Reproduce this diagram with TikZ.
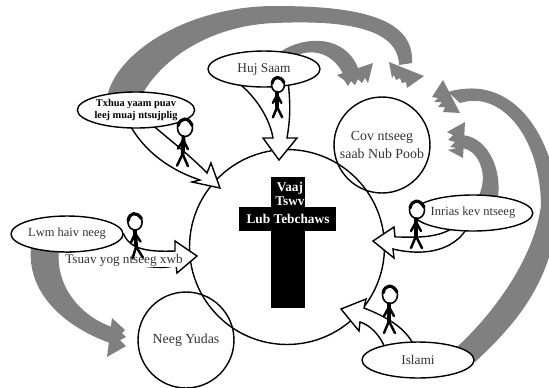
\documentclass[tikz,border=0pt]{standalone}
\usepackage{fontspec}
\setmainfont{Liberation Serif}
\usetikzlibrary{shapes.geometric}
\definecolor{bandgrey}{HTML}{808080}
\definecolor{textgrey}{HTML}{333333}
\pgfdeclarelayer{background}
\pgfdeclarelayer{arrowlayer}
\pgfsetlayers{background,arrowlayer,main}
\tikzset{
    religion/.style={ellipse, draw=black, fill=white, line width=0.8pt, minimum width=2.24cm, minimum height=0.72cm, inner sep=0pt, align=center, text=textgrey, font=\fontsize{7.6}{9}\selectfont},
    church/.style={circle, draw=black, line width=0.8pt, minimum size=1.92cm, inner sep=0pt, align=center, text=textgrey, font=\fontsize{7.9}{10}\selectfont},
    crosstext/.style={text=white, inner sep=0pt, font=\bfseries\fontsize{7.6}{9}\selectfont},
    bandfill/.style={fill=bandgrey},
    hollow/.style={draw=black, fill=white, line width=0.8pt, line join=miter},
    manline/.style={draw=black, line width=1.4pt, line cap=round},
    stickman/.pic={
        \draw[manline, line width=0.9pt, fill=white] (0,0) ellipse (7.5 and 8.5);
        \draw[manline, line width=1.8pt] (-7,-2) .. controls (-5,-11) and (3,-11) .. (7,-3);
        \draw[manline, line width=2.2pt] (-1,9) -- (-1,26);
        \draw[manline] (-1,12) -- (-6,21);
        \draw[manline] (-1,12) -- (4,21);
        \draw[manline] (-1,26) -- (-6,38);
        \draw[manline] (-1,26) -- (5,38);
    }
}
\begin{document}
\begin{tikzpicture}[x=0.02cm,y=-0.02cm]
    \useasboundingbox (0,0) rectangle (549,387);

    % draws religions
    \node[religion] (huj) at (264,69) {Huj Saam};
    \node[religion, text=black, font=\bfseries\fontsize{5.9}{7.2}\selectfont] (txhua) at (136,110) {Txhua yaam puav\\leej muaj ntsujplig};
    \node[religion, font=\fontsize{7.1}{9}\selectfont] (lwm) at (67,234) {Lwm haiv neeg};
    \node[religion, font=\fontsize{7.1}{9}\selectfont] (inrias) at (473,213) {Inrias kev ntseeg};
    \node[religion] (islami) at (418,360) {Islami};

    % draws men
    \pic (hujman) at (278,85) [scale=0.85] {stickman};
    \pic (txhuaman) at (185,128) [rotate=-3] {stickman};
    \pic (lwmman) at (135,222) [rotate=5, scale=0.95] {stickman};
    \pic (inriasman) at (417,210) {stickman};
    \pic (islamiman) at (390,295) {stickman};

    \begin{pgfonlayer}{background}
        % draws circles and cross
        \node[circle, draw=black, line width=0.8pt, minimum size=3.9cm, inner sep=0pt] (lub) at (287,247) {};
        \node[church] (cov) at (382,145) {Cov ntseeg\\saab Nub Poob};
        \node[church] (yudas) at (186,340) {Neeg Yudas};
        \fill[black] (271,177) rectangle (305,308);
        \fill[black] (239,207) rectangle (336,231);
        \node[crosstext] (vaaj) at (290,188) {Vaaj};
        \node[crosstext] (tswv) at (290,201) {Tswv};
        \node[crosstext] (tebchaws) at (288,219) {Lub Tebchaws};

        % draws grey bands
        \fill[bandfill] (txhua.center) -- (108,93) .. controls (120,50) and (190,6) .. (275,6) .. controls (350,6) and (415,15) .. (412,63) -- (399,65) .. controls (398,28) and (345,20) .. (275,23) .. controls (215,25) and (165,55) .. (143,93) -- cycle;
        \fill[bandfill] (huj.center) -- (280,52) .. controls (305,35) and (345,35) .. (358,68) -- (344,76) .. controls (335,55) and (315,47) .. (295,56) -- cycle;
        \fill[bandfill] (islami.center) -- (475,362) .. controls (515,325) and (555,280) .. (558,205) .. controls (555,140) and (515,72) .. (448,92) -- (460,103) .. controls (500,90) and (540,135) .. (541,205) .. controls (535,255) and (497,310) .. (457,347) -- cycle;
        \fill[bandfill] (inrias.center) -- (498,197) .. controls (502,165) and (485,135) .. (460,135) -- (460,148) .. controls (478,148) and (490,175) .. (478,197) -- cycle;
        \fill[bandfill] (lwm.center) -- (31,248) .. controls (27,290) and (60,325) .. (110,343) -- (112,327) .. controls (85,318) and (55,290) .. (59,250) -- cycle;

        % draws grey heads
        \fill[bandfill] (389,62) -- (424,76) -- (407,88) -- (406,82) -- (402,83) -- (400,78) -- (396,80) -- (394,75) -- (392,78) -- cycle;
        \fill[bandfill] (337,75) -- (373,63) -- (368,83) -- (365,78) -- (362,83) -- (358,79) -- (355,85) -- (351,81) -- (348,86) -- (344,80) -- cycle;
        \fill[bandfill] (443,80) -- (460,113) -- (443,112) -- (445,107) -- (438,107) -- (442,102) -- (434,102) -- (438,98) -- (432,97) -- cycle;
        \fill[bandfill] (465,122) -- (463,158) -- (448,150) -- (457,148) -- (450,147) -- (455,142) -- (448,140) -- (453,135) -- (447,132) -- cycle;
        \fill[bandfill] (112,318) -- (125,330) -- (122,333) -- (126,337) -- (120,340) -- (126,346) -- (107,357) -- cycle;
    \end{pgfonlayer}

    \begin{pgfonlayer}{arrowlayer}
        % draws hollow arrows
        \draw[hollow] (huj.center) -- (242,86) .. controls (258,100) and (270,120) .. (273,138) -- (263,138) -- (279,160) -- (297,138) -- (287,138) .. controls (291,115) and (290,100) .. (288,80) -- cycle;
        \draw[hollow] (txhua.center) .. controls (150,125) and (185,150) .. (207,173) -- (211,163) -- (220,188) -- (192,182) -- (200,180) .. controls (170,170) and (140,150) .. (125,115) -- cycle;
        \draw[hollow] (lwm.east) .. controls (130,250) and (150,252) .. (175,251) -- (175,241) -- (197,256) -- (177,273) -- (176,265) .. controls (160,272) and (120,262) .. (lwm.south) -- cycle;
        \draw[hollow] (inrias.center) .. controls (445,240) and (425,237) .. (395,237) -- (394,227) -- (373,241) -- (394,258) -- (393,249) .. controls (430,258) and (465,248) .. (inrias.center) -- cycle;
        \draw[hollow] (islami.center) .. controls (415,335) and (395,320) .. (364,308) -- (366,299) -- (341,309) -- (359,331) -- (360,322) .. controls (370,325) and (380,335) .. (385,348) -- cycle;

        % labels the arrow
        \node[fill=white, inner xsep=0pt, inner ysep=0.5pt, text=textgrey, font=\fontsize{7.5}{9}\selectfont] (tsuav) at (124,260) {Tsuav yog ntseeg xwb};
    \end{pgfonlayer}
\end{tikzpicture}
\end{document}
